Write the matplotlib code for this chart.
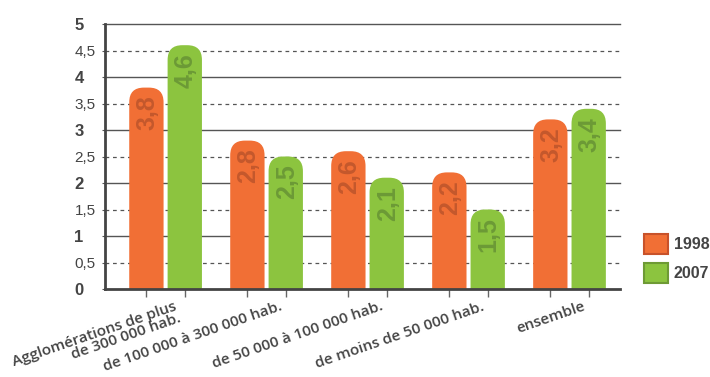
import matplotlib
matplotlib.use("Agg")
import matplotlib.pyplot as plt
import numpy as np
from matplotlib.patches import FancyBboxPatch, Patch

# values
categories = ["Agglomérations de plus\nde 300 000 hab.",
              "de 100 000 à 300 000 hab.",
              "de 50 000 à 100 000 hab.",
              "de moins de 50 000 hab.",
              "ensemble"]
v1998 = [3.8, 2.8, 2.6, 2.2, 3.2]
v2007 = [4.6, 2.5, 2.1, 1.5, 3.4]
series_names = ["1998", "2007"]
yticks = [0, 0.5, 1, 1.5, 2, 2.5, 3, 3.5, 4, 4.5, 5]

orange = "#F16F35"
green = "#8CC43F"
orange_txt = "#C4582C"
green_txt = "#6C9A36"
orange_edge = "#C8522A"
green_edge = "#6E9A35"
dark = "#444444"

plt.rcParams['font.family'] = ['Liberation Sans', 'DejaVu Sans']

fig = plt.figure(figsize=(7.1, 3.77), dpi=100)
ax = fig.add_axes([105/710, 1-289/377, 515/710, 265/377])
ax.set_xlim(-0.6, 4.5)
ax.set_ylim(0, 5)

# grid lines
for t in yticks:
    if t == 0:
        continue
    if float(t).is_integer():
        ax.axhline(t, color="#555555", lw=1.0, zorder=1, clip_on=False)
    else:
        ax.axhline(t, color="#555555", lw=0.9, ls=(0, (3, 3)), zorder=1, clip_on=False)

x = np.arange(len(categories))
w = 0.34
off = 0.19
b1 = ax.bar(x - off, v1998, w, color=orange)
b2 = ax.bar(x + off, v2007, w, color=green)

# rounded tops
ppx = 515 / 5.1
ppy = 265 / 5.0
r = 0.145
for bars, col in [(b1, orange), (b2, green)]:
    for rect in bars:
        rect.set_visible(False)
        x0, h = rect.get_x(), rect.get_height()
        p = FancyBboxPatch((x0, -1), w, h + 1,
                           boxstyle="round,pad=0,rounding_size=%f" % r,
                           mutation_aspect=ppx / ppy,
                           fc=col, ec="none", zorder=3)
        ax.add_patch(p)

# value labels inside bars
for xs, vals, tc in [(x - off, v1998, orange_txt), (x + off, v2007, green_txt)]:
    for xi, v in zip(xs, vals):
        ax.text(xi + 0.01, v - 0.15, ("%.1f" % v).replace(".", ","), rotation=90,
                ha="center", va="top", fontsize=18, fontweight="bold",
                color=tc, zorder=4)

# axes styling
for s in ["top", "right"]:
    ax.spines[s].set_visible(False)
for s in ["left", "bottom"]:
    ax.spines[s].set_color(dark)
    ax.spines[s].set_linewidth(2)
    ax.spines[s].set_zorder(5)

ax.set_yticks(yticks)
ax.set_yticklabels([("%g" % t).replace(".", ",") for t in yticks])
for t, lab in zip(yticks, ax.get_yticklabels()):
    lab.set_horizontalalignment("left")
    if float(t).is_integer():
        lab.set_fontweight("bold")
        lab.set_fontsize(12)
    else:
        lab.set_fontsize(11)
    lab.set_color(dark)
ax.tick_params(axis="y", length=2, color="#555555", pad=20)

ax.set_xticks(np.concatenate([x - off, x + off]))
ax.set_xticklabels([])
ax.tick_params(axis="x", length=6, width=1, color="#666666")

for xi, lab in zip(x, categories):
    ax.text(xi + off - 0.02, -0.04, lab, transform=ax.get_xaxis_transform(),
            rotation=19, ha="right", va="top",
            multialignment="right", fontsize=11, fontweight="semibold",
            family=["Open Sans", "DejaVu Sans"], color=dark, linespacing=0.85)

handles = [Patch(fc=orange, ec=orange_edge, lw=1.5),
           Patch(fc=green, ec=green_edge, lw=1.5)]
leg = fig.legend(handles, series_names, loc="upper left",
                 bbox_to_anchor=(638/710, 1-228/377), frameon=False,
                 handlelength=1.5, handleheight=1.5, labelspacing=0.6,
                 handletextpad=0.35, borderaxespad=0,
                 prop={"weight": "bold", "size": 11.5})
for t in leg.get_texts():
    t.set_color(dark)

fig.savefig("out.png", dpi=100)
